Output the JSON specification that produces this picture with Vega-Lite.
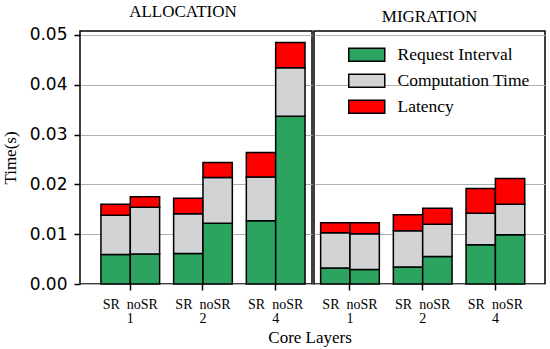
{
  "$schema": "https://vega.github.io/schema/vega-lite/v6.json",
  "autosize": {"type": "pad"},
  "padding": {"left": 0, "top": 2, "right": 6, "bottom": 3},
  "background": "white",
  "data": {
    "values": [
      {"mode": "ALLOCATION", "layers": "1", "scheme": "SR", "component": "Request Interval", "time": 0.0059},
      {"mode": "ALLOCATION", "layers": "1", "scheme": "SR", "component": "Computation Time", "time": 0.0079},
      {"mode": "ALLOCATION", "layers": "1", "scheme": "SR", "component": "Latency", "time": 0.0022},
      {"mode": "ALLOCATION", "layers": "1", "scheme": "noSR", "component": "Request Interval", "time": 0.0060},
      {"mode": "ALLOCATION", "layers": "1", "scheme": "noSR", "component": "Computation Time", "time": 0.0094},
      {"mode": "ALLOCATION", "layers": "1", "scheme": "noSR", "component": "Latency", "time": 0.0021},
      {"mode": "ALLOCATION", "layers": "2", "scheme": "SR", "component": "Request Interval", "time": 0.0061},
      {"mode": "ALLOCATION", "layers": "2", "scheme": "SR", "component": "Computation Time", "time": 0.0080},
      {"mode": "ALLOCATION", "layers": "2", "scheme": "SR", "component": "Latency", "time": 0.0031},
      {"mode": "ALLOCATION", "layers": "2", "scheme": "noSR", "component": "Request Interval", "time": 0.0122},
      {"mode": "ALLOCATION", "layers": "2", "scheme": "noSR", "component": "Computation Time", "time": 0.0092},
      {"mode": "ALLOCATION", "layers": "2", "scheme": "noSR", "component": "Latency", "time": 0.0030},
      {"mode": "ALLOCATION", "layers": "4", "scheme": "SR", "component": "Request Interval", "time": 0.0127},
      {"mode": "ALLOCATION", "layers": "4", "scheme": "SR", "component": "Computation Time", "time": 0.0088},
      {"mode": "ALLOCATION", "layers": "4", "scheme": "SR", "component": "Latency", "time": 0.0049},
      {"mode": "ALLOCATION", "layers": "4", "scheme": "noSR", "component": "Request Interval", "time": 0.0337},
      {"mode": "ALLOCATION", "layers": "4", "scheme": "noSR", "component": "Computation Time", "time": 0.0097},
      {"mode": "ALLOCATION", "layers": "4", "scheme": "noSR", "component": "Latency", "time": 0.0051},
      {"mode": "MIGRATION", "layers": "1", "scheme": "SR", "component": "Request Interval", "time": 0.0032},
      {"mode": "MIGRATION", "layers": "1", "scheme": "SR", "component": "Computation Time", "time": 0.0071},
      {"mode": "MIGRATION", "layers": "1", "scheme": "SR", "component": "Latency", "time": 0.0020},
      {"mode": "MIGRATION", "layers": "1", "scheme": "noSR", "component": "Request Interval", "time": 0.0029},
      {"mode": "MIGRATION", "layers": "1", "scheme": "noSR", "component": "Computation Time", "time": 0.0072},
      {"mode": "MIGRATION", "layers": "1", "scheme": "noSR", "component": "Latency", "time": 0.0022},
      {"mode": "MIGRATION", "layers": "2", "scheme": "SR", "component": "Request Interval", "time": 0.0034},
      {"mode": "MIGRATION", "layers": "2", "scheme": "SR", "component": "Computation Time", "time": 0.0073},
      {"mode": "MIGRATION", "layers": "2", "scheme": "SR", "component": "Latency", "time": 0.0032},
      {"mode": "MIGRATION", "layers": "2", "scheme": "noSR", "component": "Request Interval", "time": 0.0055},
      {"mode": "MIGRATION", "layers": "2", "scheme": "noSR", "component": "Computation Time", "time": 0.0065},
      {"mode": "MIGRATION", "layers": "2", "scheme": "noSR", "component": "Latency", "time": 0.0032},
      {"mode": "MIGRATION", "layers": "4", "scheme": "SR", "component": "Request Interval", "time": 0.0079},
      {"mode": "MIGRATION", "layers": "4", "scheme": "SR", "component": "Computation Time", "time": 0.0063},
      {"mode": "MIGRATION", "layers": "4", "scheme": "SR", "component": "Latency", "time": 0.0050},
      {"mode": "MIGRATION", "layers": "4", "scheme": "noSR", "component": "Request Interval", "time": 0.0099},
      {"mode": "MIGRATION", "layers": "4", "scheme": "noSR", "component": "Computation Time", "time": 0.0061},
      {"mode": "MIGRATION", "layers": "4", "scheme": "noSR", "component": "Latency", "time": 0.0052}
    ]
  },
  "transform": [
    {"calculate": "indexof(['Request Interval', 'Computation Time', 'Latency'], datum.component)", "as": "stackOrder"}
  ],
  "title": {
    "text": "Core Layers",
    "orient": "bottom",
    "anchor": "middle",
    "font": "Liberation Serif",
    "fontSize": 17,
    "fontWeight": "normal",
    "color": "black",
    "dx": 37,
    "offset": 4
  },
  "config": {
    "view": {"stroke": "black", "strokeWidth": 1.5},
    "title": {"font": "Liberation Serif", "fontSize": 17, "fontWeight": "normal", "color": "black", "offset": 5},
    "axis": {
      "domain": false,
      "tickColor": "black",
      "tickWidth": 1.5,
      "tickSize": 6,
      "labelColor": "black",
      "titleColor": "black",
      "gridColor": "#b0b0b0",
      "gridWidth": 1,
      "gridOpacity": 1
    }
  },
  "spacing": 0,
  "resolve": {"scale": {"y": "shared", "color": "shared"}, "legend": {"color": "independent"}},
  "hconcat": [
    {
      "title": {"text": "ALLOCATION", "dx": -13},
      "width": 232,
      "height": 253,
      "transform": [{"filter": "datum.mode === 'ALLOCATION'"}],
      "mark": {"type": "bar", "stroke": "black", "strokeWidth": 1.5},
      "encoding": {
        "x": {
          "field": "layers", "type": "nominal", "sort": ["1", "2", "4"],
          "scale": {"paddingInner": 0.1926, "paddingOuter": 0.192, "align": 0.75},
          "axis": {
            "title": null, "labelAngle": 0, "grid": false,
            "labelFont": "Liberation Serif", "labelFontSize": 14,
            "labelExpr": "['SR \u00a0noSR', datum.label]",
            "labelLineHeight": 14, "labelPadding": 7
          }
        },
        "xOffset": {"field": "scheme", "type": "nominal", "sort": ["SR", "noSR"], "scale": {"paddingInner": 0, "paddingOuter": 0}},
        "y": {
          "field": "time", "type": "quantitative", "stack": "zero",
          "scale": {"domain": [0, 0.0508], "nice": false},
          "axis": {
            "title": "Time(s)", "values": [0, 0.01, 0.02, 0.03, 0.04, 0.05], "format": ".2f",
            "labelFont": "DejaVu Sans", "labelFontSize": 17, "labelPadding": 7,
            "titleFont": "Liberation Serif", "titleFontSize": 17, "titleFontWeight": "normal", "titlePadding": 10,
            "grid": true
          }
        },
        "order": {"field": "stackOrder", "type": "quantitative", "sort": "ascending"},
        "color": {
          "field": "component", "type": "nominal",
          "sort": ["Request Interval", "Computation Time", "Latency"],
          "scale": {"domain": ["Request Interval", "Computation Time", "Latency"], "range": ["#2ca460", "#d1d3d4", "#ff0000"]},
          "legend": null
        }
      }
    },
    {
      "title": {"text": "MIGRATION"},
      "width": 231,
      "height": 253,
      "transform": [{"filter": "datum.mode === 'MIGRATION'"}],
      "mark": {"type": "bar", "stroke": "black", "strokeWidth": 1.5},
      "encoding": {
        "x": {
          "field": "layers", "type": "nominal", "sort": ["1", "2", "4"],
          "scale": {"paddingInner": 0.1926, "paddingOuter": 0.185, "align": 0.247},
          "axis": {
            "title": null, "labelAngle": 0, "grid": false,
            "labelFont": "Liberation Serif", "labelFontSize": 14,
            "labelExpr": "['SR \u00a0noSR', datum.label]",
            "labelLineHeight": 14, "labelPadding": 7
          }
        },
        "xOffset": {"field": "scheme", "type": "nominal", "sort": ["SR", "noSR"], "scale": {"paddingInner": 0, "paddingOuter": 0}},
        "y": {
          "field": "time", "type": "quantitative", "stack": "zero",
          "scale": {"domain": [0, 0.0508], "nice": false},
          "axis": {
            "title": null, "values": [0, 0.01, 0.02, 0.03, 0.04, 0.05],
            "labels": false, "ticks": false, "grid": true
          }
        },
        "order": {"field": "stackOrder", "type": "quantitative", "sort": "ascending"},
        "color": {
          "field": "component", "type": "nominal",
          "sort": ["Request Interval", "Computation Time", "Latency"],
          "scale": {"domain": ["Request Interval", "Computation Time", "Latency"], "range": ["#2ca460", "#d1d3d4", "#ff0000"]},
          "legend": {
            "title": null, "orient": "top-right", "offset": 15, "padding": 0,
            "symbolType": "M-2.77,-1H2.77V1H-2.77Z", "symbolSize": 169,
            "symbolStrokeColor": "black", "symbolStrokeWidth": 1.5, "symbolOpacity": 1,
            "labelFont": "Liberation Serif", "labelFontSize": 17.5, "labelColor": "black",
            "labelOffset": 22, "rowPadding": 6
          }
        }
      }
    }
  ]
}
